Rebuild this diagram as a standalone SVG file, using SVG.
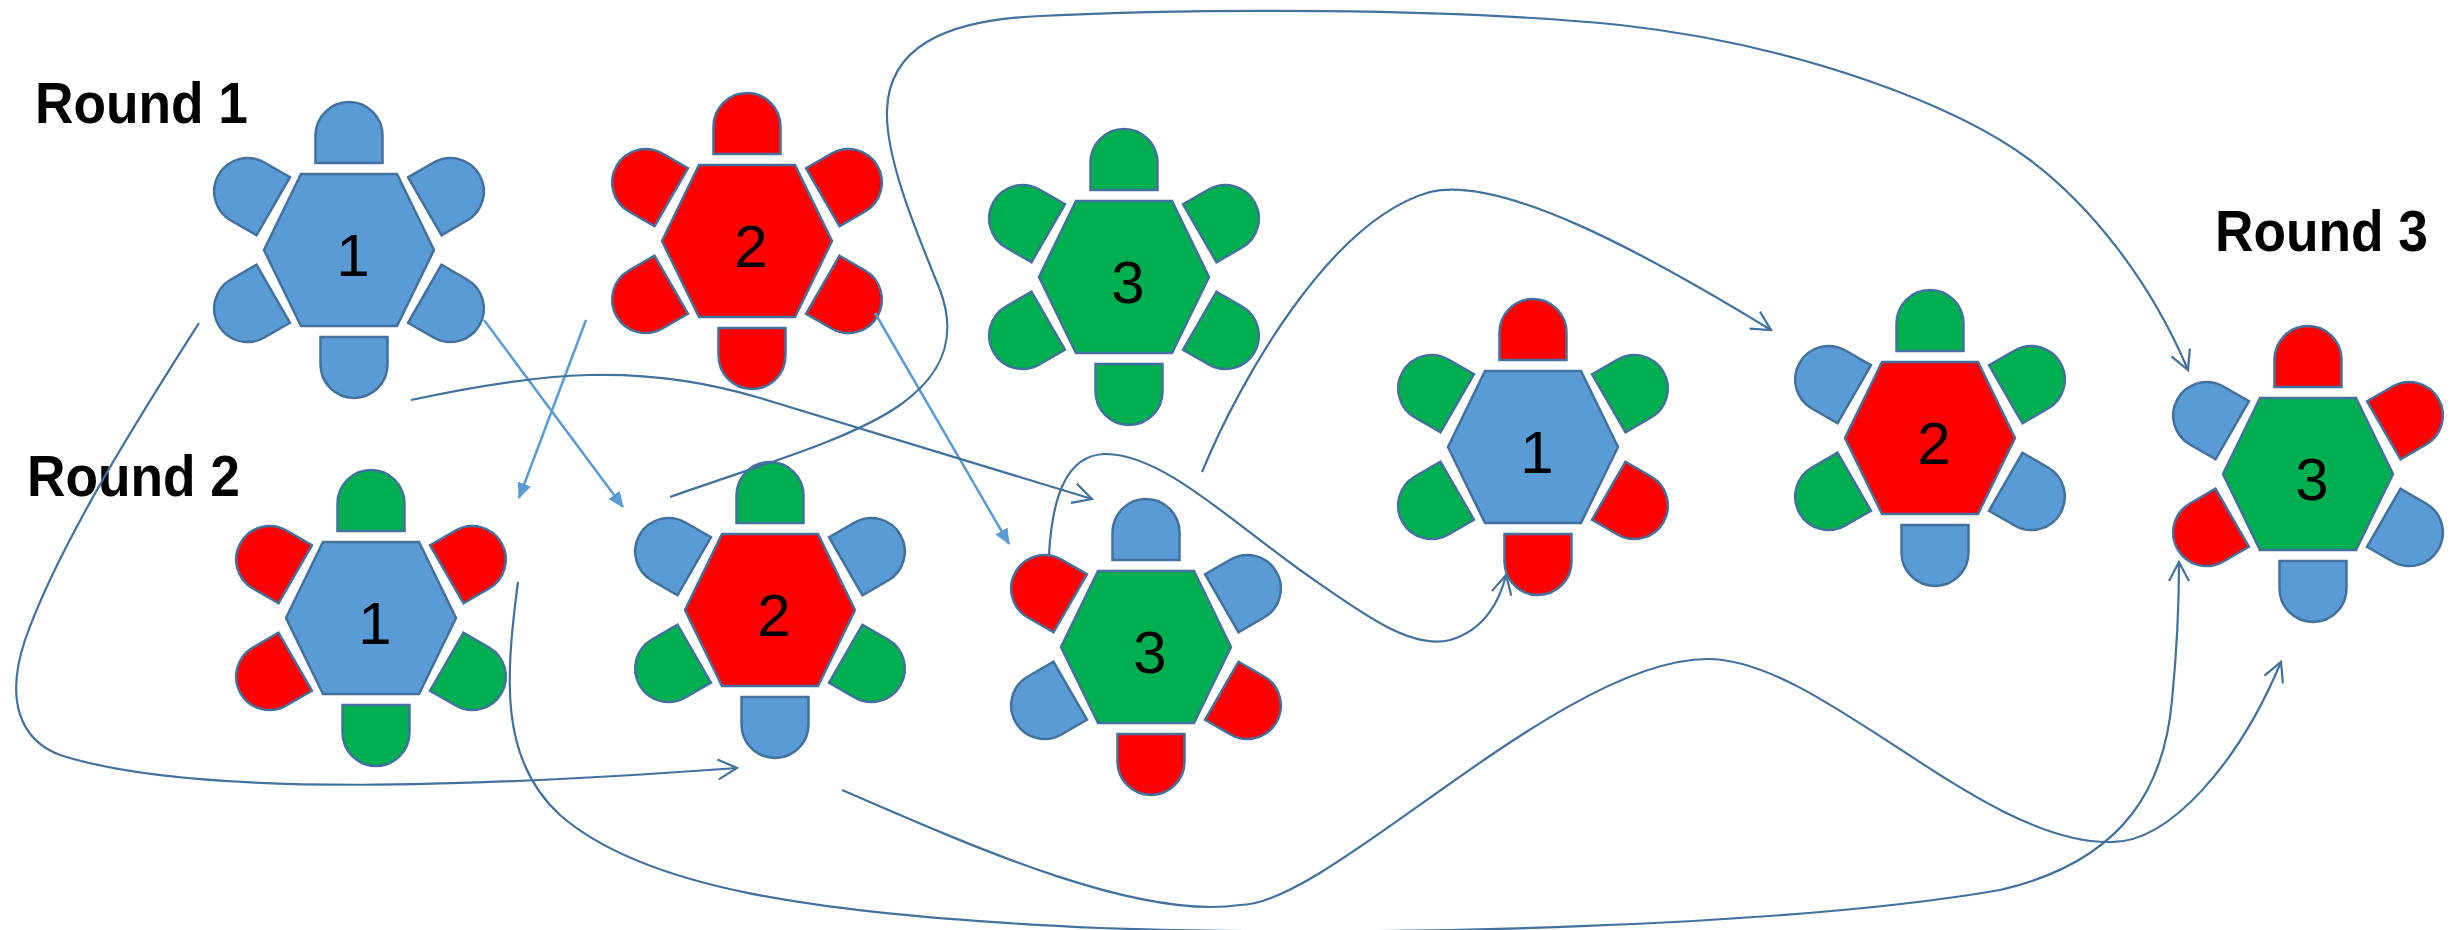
<svg xmlns="http://www.w3.org/2000/svg" xmlns:xlink="http://www.w3.org/1999/xlink" width="2458" height="930" viewBox="0 0 2458 930">
<style>
.b{fill:#5B9BD5}
.r{fill:#FF0000}
.g{fill:#00B050}
.seat{stroke:#41719C;stroke-width:2.5}
.num{font-family:"Liberation Sans",Arial,sans-serif;font-size:60px;fill:#000;text-anchor:middle}
.lbl{font-family:"Liberation Sans",Arial,sans-serif;font-weight:bold;font-size:57px;fill:#000}
.lt{stroke:#5B9BD5;stroke-width:2.5;fill:none;marker-end:url(#tri)}
.dk{stroke:#41719C;stroke-width:2.2;fill:none;marker-end:url(#vee)}
</style>
<defs>
<path id="chair" d="M-33.5,-87 L-33.5,-114.5 A33.5,33.5 0 0 1 33.5,-114.5 L33.5,-87 Z"/>
<path id="chairS" d="M-33.5,-87.5 L-33.5,-117 A33.5,33.5 0 0 1 33.5,-117 L33.5,-87.5 Z"/>
<polygon id="hex" points="-48,-76 48,-76 85,0 48,76 -48,76 -85,0"/>
<marker id="tri" viewBox="0 0 16 14" refX="15" refY="7" markerWidth="16" markerHeight="14" markerUnits="userSpaceOnUse" orient="auto">
<path d="M0,0 L16,7 L0,14 Z" fill="#5B9BD5"/>
</marker>
<marker id="vee" viewBox="0 0 22 22" refX="20" refY="11" markerWidth="22" markerHeight="22" markerUnits="userSpaceOnUse" orient="auto">
<path d="M1,1 L20,11 L1,21" fill="none" stroke="#41719C" stroke-width="2.2"/>
</marker>
</defs>
<rect width="2458" height="930" fill="#FFFFFF"/>

<text class="lbl" x="35" y="123" textLength="213" lengthAdjust="spacingAndGlyphs">Round 1</text>
<text class="lbl" x="27" y="496" textLength="213" lengthAdjust="spacingAndGlyphs">Round 2</text>
<text class="lbl" x="2215" y="251" textLength="213" lengthAdjust="spacingAndGlyphs">Round 3</text>

<g id="r1t1" transform="translate(349,250)">
<use xlink:href="#chair" class="b seat"/>
<use xlink:href="#chairS" class="b seat" transform="rotate(60)"/>
<use xlink:href="#chairS" class="b seat" transform="rotate(120)"/>
<use xlink:href="#chair" class="b seat" transform="translate(5,0) rotate(180)"/>
<use xlink:href="#chairS" class="b seat" transform="rotate(240)"/>
<use xlink:href="#chairS" class="b seat" transform="rotate(300)"/>
<use xlink:href="#hex" class="b seat"/>
<text class="num" x="4" y="26">1</text>
</g>

<g id="r1t2" transform="translate(747,241)">
<use xlink:href="#chair" class="r seat"/>
<use xlink:href="#chairS" class="r seat" transform="rotate(60)"/>
<use xlink:href="#chairS" class="r seat" transform="rotate(120)"/>
<use xlink:href="#chair" class="r seat" transform="translate(5,0) rotate(180)"/>
<use xlink:href="#chairS" class="r seat" transform="rotate(240)"/>
<use xlink:href="#chairS" class="r seat" transform="rotate(300)"/>
<use xlink:href="#hex" class="r seat"/>
<text class="num" x="4" y="26">2</text>
</g>

<g id="r1t3" transform="translate(1124,277)">
<use xlink:href="#chair" class="g seat"/>
<use xlink:href="#chairS" class="g seat" transform="rotate(60)"/>
<use xlink:href="#chairS" class="g seat" transform="rotate(120)"/>
<use xlink:href="#chair" class="g seat" transform="translate(5,0) rotate(180)"/>
<use xlink:href="#chairS" class="g seat" transform="rotate(240)"/>
<use xlink:href="#chairS" class="g seat" transform="rotate(300)"/>
<use xlink:href="#hex" class="g seat"/>
<text class="num" x="4" y="26">3</text>
</g>

<g id="r2t1" transform="translate(371,618)">
<use xlink:href="#chair" class="g seat"/>
<use xlink:href="#chairS" class="r seat" transform="rotate(60)"/>
<use xlink:href="#chairS" class="g seat" transform="rotate(120)"/>
<use xlink:href="#chair" class="g seat" transform="translate(5,0) rotate(180)"/>
<use xlink:href="#chairS" class="r seat" transform="rotate(240)"/>
<use xlink:href="#chairS" class="r seat" transform="rotate(300)"/>
<use xlink:href="#hex" class="b seat"/>
<text class="num" x="4" y="26">1</text>
</g>

<g id="r2t2" transform="translate(770,610)">
<use xlink:href="#chair" class="g seat"/>
<use xlink:href="#chairS" class="b seat" transform="rotate(60)"/>
<use xlink:href="#chairS" class="g seat" transform="rotate(120)"/>
<use xlink:href="#chair" class="b seat" transform="translate(5,0) rotate(180)"/>
<use xlink:href="#chairS" class="g seat" transform="rotate(240)"/>
<use xlink:href="#chairS" class="b seat" transform="rotate(300)"/>
<use xlink:href="#hex" class="r seat"/>
<text class="num" x="4" y="26">2</text>
</g>

<g id="r2t3" transform="translate(1146,647)">
<use xlink:href="#chair" class="b seat"/>
<use xlink:href="#chairS" class="b seat" transform="rotate(60)"/>
<use xlink:href="#chairS" class="r seat" transform="rotate(120)"/>
<use xlink:href="#chair" class="r seat" transform="translate(5,0) rotate(180)"/>
<use xlink:href="#chairS" class="b seat" transform="rotate(240)"/>
<use xlink:href="#chairS" class="r seat" transform="rotate(300)"/>
<use xlink:href="#hex" class="g seat"/>
<text class="num" x="4" y="26">3</text>
</g>

<g id="r3t1" transform="translate(1533,447)">
<use xlink:href="#chair" class="r seat"/>
<use xlink:href="#chairS" class="g seat" transform="rotate(60)"/>
<use xlink:href="#chairS" class="r seat" transform="rotate(120)"/>
<use xlink:href="#chair" class="r seat" transform="translate(5,0) rotate(180)"/>
<use xlink:href="#chairS" class="g seat" transform="rotate(240)"/>
<use xlink:href="#chairS" class="g seat" transform="rotate(300)"/>
<use xlink:href="#hex" class="b seat"/>
<text class="num" x="4" y="26">1</text>
</g>

<g id="r3t2" transform="translate(1930,438)">
<use xlink:href="#chair" class="g seat"/>
<use xlink:href="#chairS" class="g seat" transform="rotate(60)"/>
<use xlink:href="#chairS" class="b seat" transform="rotate(120)"/>
<use xlink:href="#chair" class="b seat" transform="translate(5,0) rotate(180)"/>
<use xlink:href="#chairS" class="g seat" transform="rotate(240)"/>
<use xlink:href="#chairS" class="b seat" transform="rotate(300)"/>
<use xlink:href="#hex" class="r seat"/>
<text class="num" x="4" y="26">2</text>
</g>

<g id="r3t3" transform="translate(2308,474)">
<use xlink:href="#chair" class="r seat"/>
<use xlink:href="#chairS" class="r seat" transform="rotate(60)"/>
<use xlink:href="#chairS" class="b seat" transform="rotate(120)"/>
<use xlink:href="#chair" class="b seat" transform="translate(5,0) rotate(180)"/>
<use xlink:href="#chairS" class="r seat" transform="rotate(240)"/>
<use xlink:href="#chairS" class="b seat" transform="rotate(300)"/>
<use xlink:href="#hex" class="g seat"/>
<text class="num" x="4" y="26">3</text>
</g>

<g id="connectors">
<line class="lt" x1="484" y1="320" x2="623" y2="507"/>
<line class="lt" x1="586" y1="320" x2="519" y2="498"/>
<line class="lt" x1="875" y1="313" x2="1009" y2="544"/>
<path class="dk" d="M411,400 C540,372 640,362 760,398 S1000,470 1092,499"/>
<path class="dk" d="M670,497 C760,465 850,440 900,405 C950,370 955,330 940,290 C920,240 885,160 887,110 C889,50 940,20 1040,16 C1200,8 1450,8 1620,25 C1800,45 1958,106 2030,160 C2090,205 2150,280 2188,370"/>
<path class="dk" d="M1202,472 C1240,380 1330,220 1430,192 C1500,175 1640,250 1771,330"/>
<path class="dk" d="M1049,555 C1052,500 1065,455 1105,454 C1160,453 1230,520 1300,570 C1360,612 1410,650 1450,640 C1485,630 1500,600 1506,575"/>
<path class="dk" d="M199,323 C150,400 60,540 25,640 C5,700 20,740 60,755 C200,800 500,785 737,768"/>
<path class="dk" d="M518,582 C505,680 500,760 560,815 C640,885 800,915 1100,928 C1400,938 1800,925 2000,890 C2130,860 2165,780 2172,700 C2178,640 2179,600 2179,562"/>
<path class="dk" d="M842,790 C980,850 1140,920 1240,905 C1330,905 1560,659 1708,659 C1820,659 1980,842 2108,842 C2170,845 2240,760 2281,662"/>
</g>
</svg>
